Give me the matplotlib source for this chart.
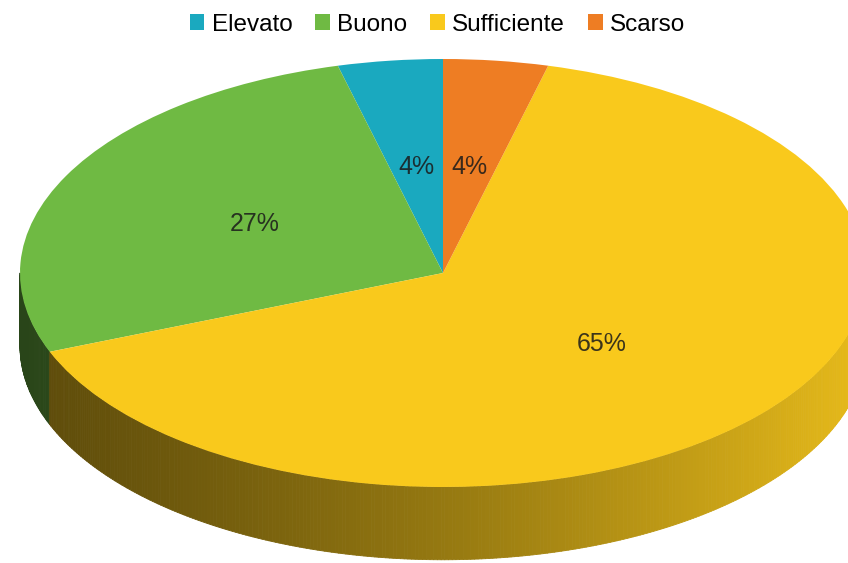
import numpy as np
import matplotlib
matplotlib.use("Agg")
import matplotlib.pyplot as plt
from matplotlib.collections import PolyCollection
from matplotlib.colors import to_rgb

plt.rcParams['font.family'] = ['Liberation Sans', 'DejaVu Sans']

# dati
categorie = ['Elevato', 'Buono', 'Sufficiente', 'Scarso']
valori = [4, 27, 65, 4]
colori = ['#1aa9bf', '#6fba43', '#f9c91c', '#ee7d23']

fig = plt.figure(figsize=(8.48, 5.63), dpi=100)
ax = fig.add_axes([0, 0, 1, 1])

wedges, testi, perc = ax.pie(valori, colors=colori, startangle=90, counterclock=True,
                             autopct='%.0f%%', pctdistance=0.5, radius=1,
                             wedgeprops=dict(linewidth=0, zorder=3),
                             textprops=dict(fontsize=18, color='#1a1a1a'))
for t in perc:
    t.set_zorder(5)
    t.set_alpha(0.85)

# fianco 3D (parte anteriore)
spessore = 0.34
quad = []
col = []
for w, c in zip(wedges, colori):
    a1, a2 = w.theta1, w.theta2
    angoli = np.linspace(a1, a2, max(int((a2 - a1) * 2), 2))
    base = np.array(to_rgb(c))
    for i in range(len(angoli) - 1):
        t1 = np.radians(angoli[i])
        t2 = np.radians(angoli[i + 1])
        if np.sin(t1) > 0.001 and np.sin(t2) > 0.001:
            continue
        x1, y1 = np.cos(t1), min(np.sin(t1), 0)
        x2, y2 = np.cos(t2), min(np.sin(t2), 0)
        quad.append([(x1, y1), (x2, y2), (x2, y2 - spessore), (x1, y1 - spessore)])
        xm = (x1 + x2) / 2
        f = 0.6 + 0.28 * xm + 0.05 * xm ** 2
        col.append(np.clip(base * f, 0, 1))
pc = PolyCollection(quad, facecolors=col, edgecolors=col, linewidths=0.6, zorder=1)
ax.add_collection(pc)

ax.set_aspect('auto')
ax.set_xlim(-443 / 423, 405 / 423)
ax.set_ylim(-290 / 214, 273 / 214)
ax.axis('off')

fig.legend(wedges, categorie, loc='upper center', bbox_to_anchor=(0.516, 0.993), ncol=4,
           frameon=False, fontsize=17.5, handlelength=0.6, handleheight=0.6,
           handletextpad=0.3, columnspacing=0.95, borderaxespad=0)

fig.savefig('out.png', dpi=100, facecolor='white')
